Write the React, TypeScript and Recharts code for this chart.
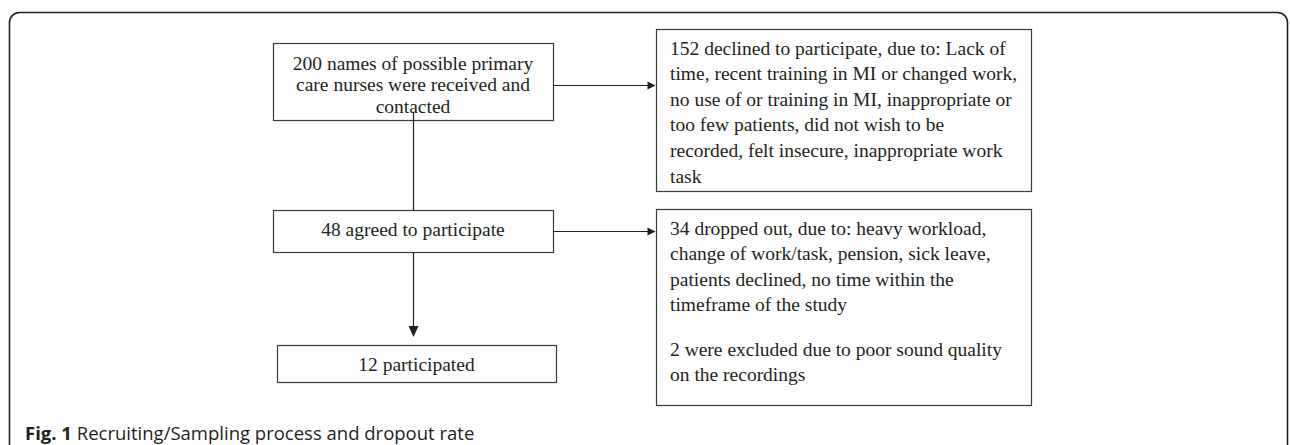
import React from 'react';
import { ComposedChart, XAxis, YAxis, ReferenceArea, ReferenceLine, Scatter } from 'recharts';

const W = 1290;
const H = 445;

// ---- content ----
const screenedLines = ['200 names of possible primary', 'care nurses were received and', 'contacted'];
const declinedLines = [
  '152 declined to participate, due to: Lack of',
  'time, recent training in MI or changed work,',
  'no use of or training in MI, inappropriate or',
  'too few patients, did not wish to be',
  'recorded, felt insecure, inappropriate work',
  'task',
];
const agreedLines = ['48 agreed to participate'];
const dropoutLines = [
  '34 dropped out, due to: heavy workload,',
  'change of work/task, pension, sick leave,',
  'patients declined, no time within the',
  'timeframe of the study',
  '',
  '2 were excluded due to poor sound quality',
  'on the recordings',
];
const participatedLines = ['12 participated'];
const captionBold = 'Fig. 1';
const captionText = 'Recruiting/Sampling process and dropout rate';

// ---- layout (chart domain = pixel space) ----
type Box = { lines: string[]; x1: number; x2: number; y1: number; y2: number; align: 'center' | 'left'; firstY: number; gap: number; textX: number };
const boxes: Box[] = [
  { lines: screenedLines, x1: 273.5, x2: 553.5, y1: 43.5, y2: 120.5, align: 'center', firstY: 63, gap: 21.5, textX: 413 },
  { lines: declinedLines, x1: 656.5, x2: 1031.5, y1: 29.5, y2: 191.5, align: 'left', firstY: 48, gap: 25.6, textX: 670 },
  { lines: agreedLines, x1: 273.5, x2: 553.5, y1: 210.5, y2: 252.5, align: 'center', firstY: 229, gap: 21.5, textX: 413 },
  { lines: dropoutLines, x1: 656.5, x2: 1031.5, y1: 209.5, y2: 405.5, align: 'left', firstY: 228, gap: 25.6, textX: 670 },
  { lines: participatedLines, x1: 277.5, x2: 556.5, y1: 345.5, y2: 382.5, align: 'center', firstY: 364, gap: 21.5, textX: 416.5 },
];
const BLANK_GAP = 18.6;

const connectors = [
  { x1: 413.5, y1: 112, x2: 413.5, y2: 210 },
  { x1: 553.5, y1: 85.5, x2: 648, y2: 85.5 },
  { x1: 553.5, y1: 231.5, x2: 648, y2: 231.5 },
  { x1: 413.5, y1: 252.5, x2: 413.5, y2: 327 },
];
const arrowHeads = [
  { x: 655.5, y: 85.5, dir: 'right' },
  { x: 655.5, y: 231.5, dir: 'right' },
  { x: 413.5, y: 337, dir: 'down' },
];

const textPoints: any[] = [];
boxes.forEach((b) => {
  let y = b.firstY;
  b.lines.forEach((t, i) => {
    if (i > 0) y += b.lines[i - 1] === '' ? BLANK_GAP : b.gap;
    if (t !== '') textPoints.push({ x: b.textX, y, text: t, anchor: b.align === 'center' ? 'middle' : 'start' });
  });
});

const INK = '#231f20';
const SERIF = '"Liberation Serif", "Times New Roman", serif';
const SANS = '"Open Sans", "Noto Sans", sans-serif';

const TextShape = (p: any) => (
  <text
    x={p.cx}
    y={p.cy}
    textAnchor={p.payload.anchor}
    dominantBaseline="central"
    fontFamily={SERIF}
    fontSize={19.5}
    fill={INK}
  >
    {p.payload.text}
  </text>
);

const ArrowShape = (p: any) => {
  const { cx, cy } = p;
  if (p.payload.dir === 'right') {
    return <path d={`M${cx},${cy} L${cx - 8},${cy - 4} L${cx - 8},${cy + 4} Z`} fill={INK} />;
  }
  return <path d={`M${cx},${cy} L${cx - 5},${cy - 11} L${cx + 5},${cy - 11} Z`} fill={INK} />;
};

const BoxShape = (p: any) => (
  <rect x={p.x} y={p.y} width={p.width} height={p.height} fill="#fff" stroke="#3a3a3a" strokeWidth={1.2} />
);

const FrameShape = (p: any) => (
  <rect x={p.x} y={p.y} width={p.width} height={p.height} rx={10} ry={10} fill="none" stroke={INK} strokeWidth={1.6} />
);

const captionPoint = [{ x: 25, y: 432 }];
const CaptionShape = (p: any) => (
  <text x={p.cx} y={p.cy} dominantBaseline="central" fontFamily={SANS} fontSize={18.5} fill={INK}>
    <tspan fontWeight="bold">{captionBold}</tspan>
    <tspan> {captionText}</tspan>
  </text>
);

export default function App() {
  return (
    <div style={{ position: 'absolute', left: 0, top: 0, width: W, height: H, background: '#fff' }}>
      <ComposedChart width={W} height={H} margin={{ top: 0, right: 0, bottom: 0, left: 0 }}>
        <XAxis type="number" dataKey="x" domain={[0, W]} hide allowDataOverflow />
        <YAxis type="number" dataKey="y" domain={[0, H]} reversed hide allowDataOverflow />
        <ReferenceArea x1={9.5} x2={1287.5} y1={12.5} y2={480} ifOverflow="visible" shape={FrameShape} />
        {boxes.map((b, i) => (
          <ReferenceArea key={i} x1={b.x1} x2={b.x2} y1={b.y1} y2={b.y2} ifOverflow="visible" shape={BoxShape} />
        ))}
        {connectors.map((c, i) => (
          <ReferenceLine
            key={i}
            segment={[{ x: c.x1, y: c.y1 }, { x: c.x2, y: c.y2 }]}
            stroke={INK}
            strokeWidth={1.2}
            ifOverflow="visible"
          />
        ))}
        <Scatter data={arrowHeads} dataKey="y" shape={ArrowShape} isAnimationActive={false} />
        <Scatter data={textPoints} dataKey="y" shape={TextShape} isAnimationActive={false} />
        <Scatter data={captionPoint} dataKey="y" shape={CaptionShape} isAnimationActive={false} />
      </ComposedChart>
    </div>
  );
}
